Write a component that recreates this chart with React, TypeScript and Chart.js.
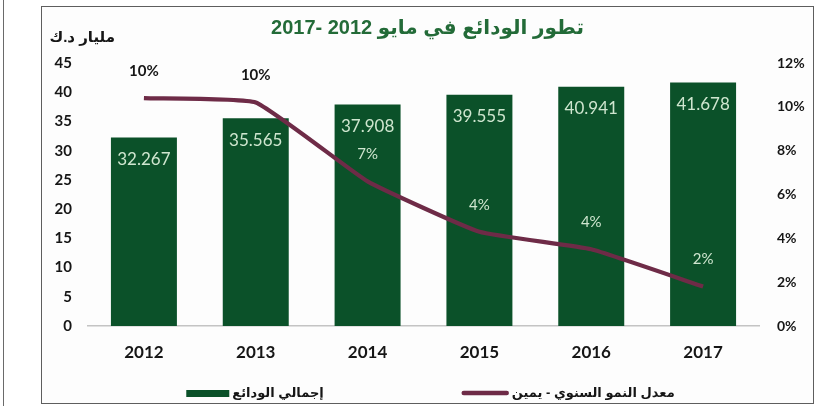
import React, { useEffect, useRef } from 'react';
import { Chart, registerables } from 'chart.js';

Chart.register(...registerables);

// ---- data ----
const years = ['2012', '2013', '2014', '2015', '2016', '2017'];
const deposits = [32.267, 35.565, 37.908, 39.555, 40.941, 41.678];
const growth = [10.4, 10.2, 6.6, 4.3, 3.5, 1.8];
const leftAxis = { min: 0, max: 45, step: 5 };
const rightAxis = { min: 0, max: 12, step: 2 };

const titleText = 'تطور الودائع في مايو 2012 -2017';
const unitText = 'مليار د.ك';
const depositsLabel = 'إجمالي الودائع';
const growthLabel = 'معدل النمو السنوي - يمين';

// ---- styles ----
const barColor = '#0b5129';
const lineColor = '#6e2b47';
const lightText = '#cfe6cf';
const darkText = '#161616';
const latin = "Lato, 'DejaVu Sans', sans-serif";
const arabic = "'Liberation Sans', 'DejaVu Sans', sans-serif";

const overlayPlugin = {
  id: 'overlay',
  afterDatasetsDraw(chart: any) {
    const ctx = chart.ctx as CanvasRenderingContext2D;
    const lineMeta = chart.getDatasetMeta(0);
    const barMeta = chart.getDatasetMeta(1);
    ctx.save();
    ctx.textAlign = 'center';
    ctx.textBaseline = 'middle';
    barMeta.data.forEach((bar: any, i: number) => {
      ctx.font = `17px ${latin}`;
      ctx.fillStyle = lightText;
      ctx.fillText(deposits[i].toFixed(3), bar.x, bar.y + 22);
    });
    lineMeta.data.forEach((pt: any, i: number) => {
      const y = pt.y - 27;
      const outside = y < barMeta.data[i].y;
      ctx.font = outside ? `bold 15px ${latin}` : `15px ${latin}`;
      ctx.fillStyle = outside ? darkText : lightText;
      ctx.fillText(Math.round(growth[i]) + '%', pt.x, y);
    });
    ctx.restore();
  },
  afterDraw(chart: any) {
    const ctx = chart.ctx as CanvasRenderingContext2D;
    const area = chart.chartArea;
    ctx.save();
    (ctx as any).direction = 'rtl';
    // unit caption
    ctx.font = `bold 15px ${arabic}`;
    ctx.fillStyle = darkText;
    ctx.textAlign = 'right';
    ctx.textBaseline = 'middle';
    ctx.fillText(unitText, area.left + 27, area.top - 25);

    // legend (bar item left, line item right)
    const ds = chart.data.datasets;
    const items = [
      { text: ds[1].label, color: ds[1].backgroundColor, kind: 'box', w: 43 },
      { text: ds[0].label, color: ds[0].borderColor, kind: 'line', w: 47 },
    ];
    ctx.font = `bold 13px ${arabic}`;
    const gapText = 3;
    const gapItems = 138;
    const widths = items.map((it) => it.w + gapText + ctx.measureText(it.text).width);
    const total = widths[0] + gapItems + widths[1];
    let x = chart.width / 2 - total / 2 + 3;
    const y = chart.height - 10;
    ctx.textAlign = 'left';
    items.forEach((it, i) => {
      if (it.kind === 'box') {
        ctx.fillStyle = it.color;
        ctx.fillRect(x, y - 3, it.w, 7);
      } else {
        ctx.strokeStyle = it.color;
        ctx.lineWidth = 4.5;
        ctx.lineCap = 'round';
        ctx.beginPath();
        ctx.moveTo(x + 2, y);
        ctx.lineTo(x + it.w - 2, y);
        ctx.stroke();
      }
      ctx.fillStyle = darkText;
      ctx.fillText(it.text, x + it.w + gapText, y);
      x += widths[i] + gapItems;
    });
    ctx.restore();
  },
};

export default function App() {
  const canvasRef = useRef<HTMLCanvasElement | null>(null);

  useEffect(() => {
    if (!canvasRef.current) return;
    const chart = new Chart(canvasRef.current, {
      type: 'bar',
      data: {
        labels: years,
        datasets: [
          {
            type: 'line',
            label: growthLabel,
            data: growth,
            yAxisID: 'y1',
            borderColor: lineColor,
            backgroundColor: lineColor,
            borderWidth: 4.2,
            pointRadius: 0,
            tension: 0.12,
            order: 0,
          } as any,
          {
            type: 'bar',
            label: depositsLabel,
            data: deposits,
            yAxisID: 'y',
            backgroundColor: barColor,
            borderWidth: 0,
            categoryPercentage: 1,
            barPercentage: 0.59,
            order: 1,
          },
        ],
      },
      options: {
        responsive: false,
        animation: false,
        devicePixelRatio: 1,
        layout: { padding: { left: 0, right: 0, top: 0, bottom: 35 } },
        plugins: {
          legend: { display: false },
          tooltip: { enabled: false },
          title: {
            display: true,
            text: titleText,
            color: '#236b38',
            font: { family: arabic, size: 20, weight: 'bold' },
            padding: { top: 9, bottom: 23 },
          },
        },
        scales: {
          x: {
            grid: { display: false },
            border: { display: true, color: '#c4c4c4', width: 1.5 },
            ticks: {
              color: darkText,
              padding: 8,
              font: { family: latin, size: 17, weight: 'bold' },
            },
            afterFit: (s: any) => {
              s.height = 42;
            },
          },
          y: {
            position: 'left',
            min: leftAxis.min,
            max: leftAxis.max,
            grid: { display: false, drawTicks: false },
            border: { display: false },
            ticks: {
              stepSize: leftAxis.step,
              color: darkText,
              padding: 16,
              font: { family: latin, size: 15, weight: 'bold' },
            },
            afterFit: (s: any) => {
              s.width = 46;
            },
          },
          y1: {
            position: 'right',
            min: rightAxis.min,
            max: rightAxis.max,
            grid: { display: false, drawTicks: false },
            border: { display: false },
            ticks: {
              stepSize: rightAxis.step,
              color: darkText,
              padding: 18,
              font: { family: latin, size: 14, weight: 'bold' },
              callback: (v: any) => v + '%',
            },
            afterFit: (s: any) => {
              s.width = 54;
            },
          },
        },
      },
      plugins: [overlayPlugin],
    });
    return () => chart.destroy();
  }, []);

  return (
    <div style={{ position: 'fixed', left: 0, top: 0, width: 820, height: 406, background: '#fff', overflow: 'hidden' }}>
      <div style={{ position: 'absolute', left: 3, top: 0, width: 1, height: 406, background: '#6a6a6a' }} />
      <div
        style={{
          position: 'absolute',
          left: 41,
          top: 6,
          width: 773,
          height: 398,
          border: '1px solid #5e5e5e',
          boxSizing: 'border-box',
          background: '#fdfdfd',
        }}
      >
        <canvas
          ref={canvasRef}
          width={771}
          height={396}
          style={{ display: 'block', width: 771, height: 396, direction: 'rtl' }}
        />
      </div>
    </div>
  );
}
